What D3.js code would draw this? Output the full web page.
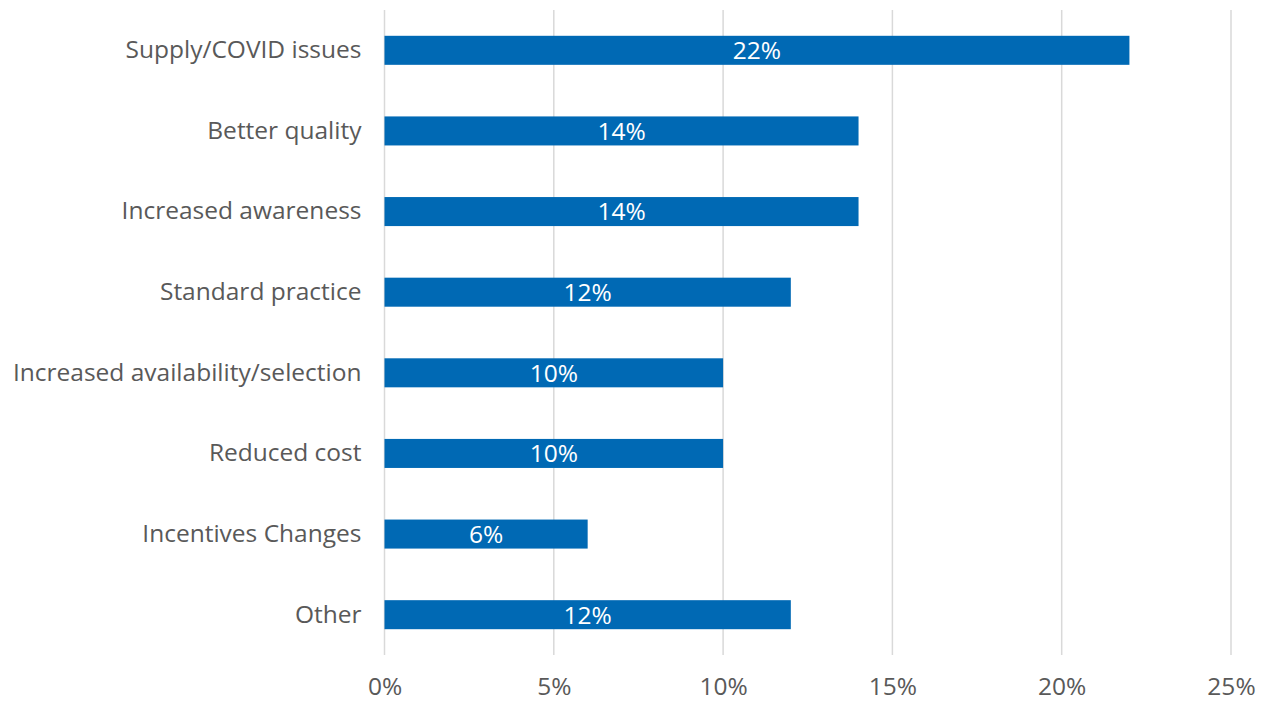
<!DOCTYPE html>
<html>
<head>
<meta charset="utf-8">
<script src="https://cdn.jsdelivr.net/npm/d3@7"></script>
<style>
  body { margin: 0; background: #fff; }
  svg text { font-family: "Open Sans", Roboto, sans-serif; }
</style>
</head>
<body>
<div id="chart"></div>
<script>
// categories top to bottom, share of responses (%)
var categories = ["Supply/COVID issues", "Better quality", "Increased awareness", "Standard practice",
  "Increased availability/selection", "Reduced cost", "Incentives Changes", "Other"];
var values = [22, 14, 14, 12, 10, 10, 6, 12];
var xTicks = [0, 5, 10, 15, 20, 25];

var width = 1271, height = 703;
var margin = {top: 10, right: 40, bottom: 48, left: 384.5};
var fontSize = "24.5px";

var svg = d3.select("#chart").append("svg")
  .attr("width", width)
  .attr("height", height);

var x = d3.scaleLinear()
  .domain([0, 25])
  .range([margin.left, width - margin.right]);

var y = d3.scaleBand()
  .domain(categories)
  .range([margin.top, height - margin.bottom])
  .paddingInner(0.64)
  .paddingOuter(0.32);

// vertical gridlines
svg.append("g")
  .selectAll("line")
  .data(xTicks)
  .enter()
  .append("line")
  .attr("x1", function(d) { return x(d); })
  .attr("x2", function(d) { return x(d); })
  .attr("y1", margin.top)
  .attr("y2", height - margin.bottom)
  .attr("stroke", "#d9d9d9")
  .attr("stroke-width", 1.5);

// x tick labels
var xAxis = svg.append("g")
  .attr("transform", "translate(0," + (height - margin.bottom) + ")")
  .call(d3.axisBottom(x).tickValues(xTicks).tickSize(0).tickPadding(23)
    .tickFormat(function(d) { return d + "%"; }));
xAxis.select(".domain").remove();
xAxis.selectAll("text")
  .attr("fill", "#595959")
  .style("font-size", fontSize);

// category labels
var yAxis = svg.append("g")
  .attr("transform", "translate(" + margin.left + ",0)")
  .call(d3.axisLeft(y).tickSize(0).tickPadding(23));
yAxis.select(".domain").remove();
yAxis.selectAll("text")
  .attr("fill", "#595959")
  .style("font-size", fontSize);

// bars
svg.append("g")
  .selectAll("rect")
  .data(values)
  .enter()
  .append("rect")
  .attr("x", x(0))
  .attr("y", function(d, i) { return y(categories[i]); })
  .attr("width", function(d) { return x(d) - x(0); })
  .attr("height", y.bandwidth())
  .attr("fill", "#0069b4");

// data labels
svg.append("g")
  .selectAll("text")
  .data(values)
  .enter()
  .append("text")
  .attr("x", function(d) { return (x(0) + x(d)) / 2; })
  .attr("y", function(d, i) { return y(categories[i]) + y.bandwidth() / 2; })
  .attr("dy", "0.36em")
  .attr("text-anchor", "middle")
  .attr("fill", "#fff")
  .style("font-size", fontSize)
  .text(function(d) { return d + "%"; });
</script>
</body>
</html>
